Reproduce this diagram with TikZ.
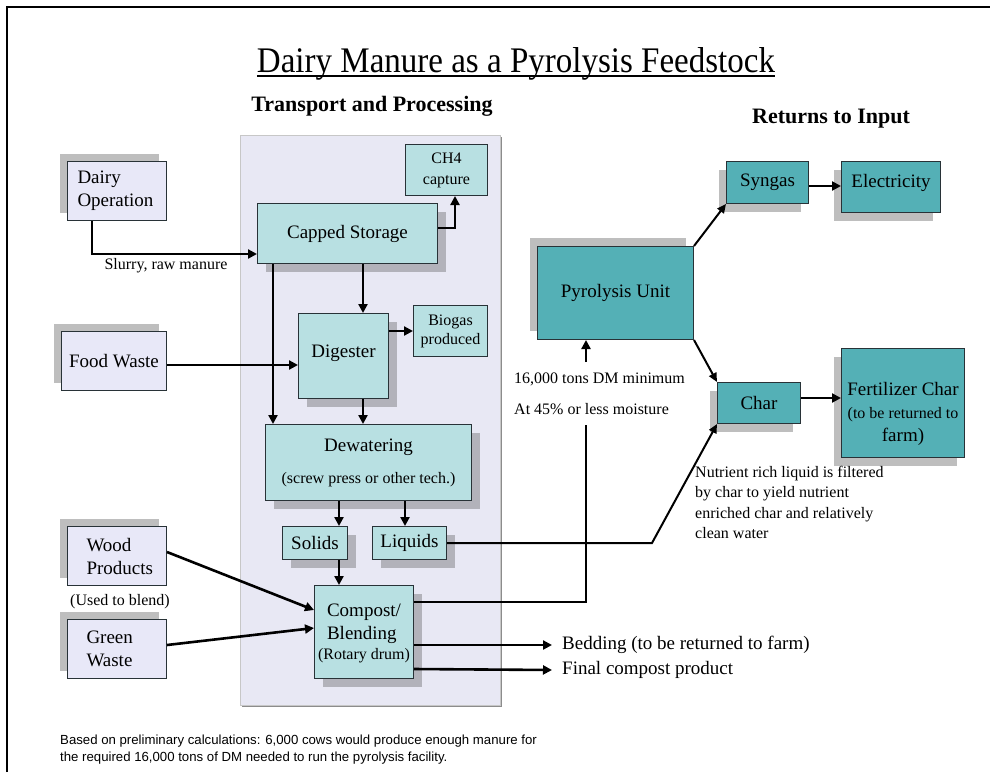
\documentclass[tikz,border=0pt]{standalone}
\usepackage{fontspec}
\setmainfont{Liberation Serif}
\newfontfamily\sansf{Liberation Sans}
\usetikzlibrary{shadows,arrows.meta}
\definecolor{lav}{RGB}{232,232,248}
\definecolor{panelc}{RGB}{232,232,244}
\definecolor{lteal}{RGB}{184,224,226}
\definecolor{dteal}{RGB}{84,176,182}
\definecolor{shd}{RGB}{190,190,190}
\definecolor{shdp}{RGB}{178,178,186}
\definecolor{bord}{RGB}{40,50,55}
\tikzset{
  bx/.style={draw=bord, line width=1pt, inner sep=0pt, anchor=north west, align=center,
             font=\fontsize{19}{23}\selectfont},
  lavbox/.style={bx, fill=lav, general shadow={fill=shd, shadow xshift=-8pt, shadow yshift=8pt}},
  ltbox/.style={bx, fill=lteal},
  ltshbox/.style={bx, fill=lteal, general shadow={fill=shdp, shadow xshift=8pt, shadow yshift=-8pt}},
  dtbox/.style={bx, fill=dteal, general shadow={fill=shd, shadow xshift=-8pt, shadow yshift=-8pt}},
  arr/.style={line width=2.6pt, -{Triangle[length=9pt,width=9pt]}},
  arrthin/.style={line width=2pt, -{Triangle[length=9pt,width=8pt]}},
  plain/.style={line width=2.6pt},
  lbl/.style={inner sep=0pt, font=\fontsize{16}{20}\selectfont},
  big/.style={inner sep=0pt, font=\fontsize{19}{23}\selectfont},
}
\begin{document}
\begin{tikzpicture}[x=1pt,y=-1pt]
\useasboundingbox (0,0) rectangle (990,772);
% frame
\draw[line width=1.6pt] (7,772) -- (7,7) -- (990,7);
% titles
\node[inner sep=0pt, anchor=base, font=\fontsize{36}{40}\selectfont] (title) at (516,72) {\scalebox{0.917}[1]{Dairy Manure as a Pyrolysis Feedstock}};
\draw[line width=1.8pt] (title.west |- 0,76) -- (title.east |- 0,76);
\node[inner sep=0pt, font=\fontsize{22}{26}\selectfont\bfseries] (tp) at (372,106) {Transport and Processing};
\node[inner sep=0pt, font=\fontsize{22}{26}\selectfont\bfseries] (ri) at (831,119) {Returns to Input};
% panel
\node[draw=black!22, fill=panelc, line width=1pt, anchor=north west, minimum width=260pt, minimum height=570pt,
      general shadow={fill=black!45, shadow xshift=1.5pt, shadow yshift=-1.5pt}] (proc) at (240,135) {};
% left boxes
\node[lavbox, minimum width=99pt, minimum height=59pt, align=left, text width=79pt] (dairy) at (67,161) {Dairy\\Operation};
\node[lavbox, minimum width=105pt, minimum height=59pt] (food) at (61,331) {Food Waste};
\node[lavbox, minimum width=99pt, minimum height=59pt, align=left, text width=61pt] (wood) at (67,526) {Wood\\Products};
\node[lavbox, minimum width=99pt, minimum height=59pt, align=left, text width=61pt] (green) at (67,619) {Green\\Waste};
% processing boxes
\node[ltbox, minimum width=82pt, minimum height=51pt, font=\fontsize{16}{21}\selectfont] (ch4) at (405,144) {CH4\\capture};
\node[ltshbox, minimum width=180pt, minimum height=60pt] (capped) at (257,203) {Capped Storage};
\node[ltshbox, minimum width=90pt, minimum height=85pt] (digester) at (298,313) {\rule[-10pt]{0pt}{10pt}Digester};
\node[ltbox, minimum width=74pt, minimum height=51pt, font=\fontsize{16}{19}\selectfont] (biogas) at (413,305) {Biogas\\produced};
\node[ltshbox, minimum width=206pt, minimum height=76pt] (dewater) at (265,424) {Dewatering\\[9pt]\fontsize{16}{19}\selectfont(screw press or other tech.)};
\node[ltshbox, minimum width=65pt, minimum height=33pt] (solids) at (282,526) {Solids};
\node[ltshbox, minimum width=74pt, minimum height=33pt] (liquids) at (372,526) {Liquids};
\node[ltshbox, minimum width=99pt, minimum height=93pt] (compost) at (314,585) {\begin{tabular}{@{}l@{}}Compost/\\Blending\end{tabular}\\[1pt]\fontsize{16}{19}\selectfont(Rotary drum)};
% right boxes
\node[bx, fill=dteal, minimum width=156pt, minimum height=93pt,
      general shadow={fill=shd, shadow xshift=-8pt, shadow yshift=9pt}] (pyro) at (537,246) {Pyrolysis Unit};
\node[dtbox, minimum width=82pt, minimum height=42pt] (syngas) at (726,161) {Syngas};
\node[dtbox, minimum width=99pt, minimum height=51pt] (elec) at (841,161) {\rule[-12pt]{0pt}{12pt}Electricity};
\node[dtbox, minimum width=123pt, minimum height=109pt] (fert) at (841,348) {\rule{0pt}{36pt}Fertilizer Char\\\fontsize{16}{21}\selectfont(to be returned to\\farm)};
\node[dtbox, minimum width=83pt, minimum height=41pt] (char) at (717,382) {Char};
% labels
\node[lbl] (slurry) at (166,266) {Slurry, raw manure};
\node[lbl] (blend) at (120,602) {(Used to blend)};
\node[lbl, anchor=west, align=left] (pyrolabel) at (514,394) {16,000 tons DM minimum\\[11pt]At 45\% or less moisture};
\node[lbl, anchor=north west, align=left, font=\fontsize{16}{20.4}\selectfont] (nutr) at (695,466)
  {Nutrient rich liquid is filtered\\by char to yield nutrient\\enriched char and relatively\\clean water};
\node[big, anchor=west, inner xsep=10pt] (bedding) at (552,645) {Bedding (to be returned to farm)};
\node[big, anchor=west, inner xsep=10pt] (final) at (552,670) {Final compost product};
\node[inner sep=0pt, anchor=north west, align=left, font=\sansf\fontsize{13.2}{17}\selectfont] (foot) at (60,735)
  {Based on preliminary calculations: 6,000 cows would produce enough manure for\\the required 16,000 tons of DM needed to run the pyrolysis facility.};
\coordinate (pyin) at (586,362);
\coordinate (pyout) at (586,425);
\coordinate (liqbend) at (652,543);
% connectors
\draw[arr] (dairy.south -| 92,0) |- (capped.west |- 0,254);
\draw[arr] (capped.east |- 0,228) -| (455,0 |- ch4.south);
\draw[arr] (363,0 |- capped.south) -- (363,0 |- digester.north);
\draw[arr] (273,0 |- capped.south) -- (273,0 |- dewater.north);
\draw[arr] (food.east |- 0,365) -- (digester.west |- 0,365);
\draw[arr] (digester.east |- 0,331) -- (biogas.west |- 0,331);
\draw[arr] (363,0 |- digester.south) -- (363,0 |- dewater.north);
\draw[arr] (339,0 |- dewater.south) -- (339,0 |- solids.north);
\draw[arr] (405,0 |- dewater.south) -- (405,0 |- liquids.north);
\draw[arr] (339,0 |- solids.south) -- (339,0 |- compost.north);
\draw[arr] (wood.east |- 0,552) -- (compost.west |- 0,610);
\draw[arr] (green.east |- 0,645) -- (compost.west |- 0,628);
\draw[plain] (compost.east |- 0,602) -| (pyout);
\draw[arr] (pyin) -- (pyin |- pyro.south);
\draw[arrthin] (liquids.east |- 0,543) -- (liqbend) -- (char.south west);
\draw[arrthin] (pyro.north east) -- (syngas.south west);
\draw[arr] (syngas.east |- 0,186) -- (elec.west |- 0,186);
\draw[arrthin] (pyro.south east) -- (char.north west);
\draw[arr] (char.east |- 0,398) -- (fert.west |- 0,398);
\draw[arr] (compost.east |- 0,645) -- (bedding.west);
\draw[arr] (compost.east |- 0,669) -- (final.west);
\end{tikzpicture}
\end{document}
